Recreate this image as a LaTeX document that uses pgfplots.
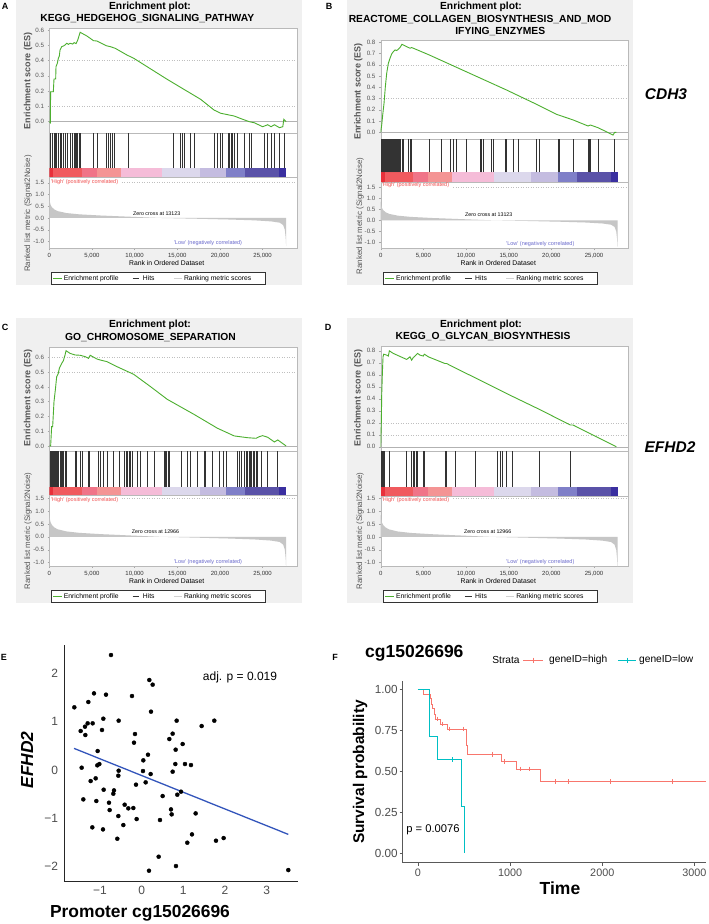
\documentclass[border=0pt]{standalone}
\usepackage{pgfplots}
\pgfplotsset{compat=1.18}
\usepackage{fontspec}
\setmainfont{Liberation Sans}
\newcommand{\fs}[1]{\fontsize{#1}{#1}\selectfont}
\definecolor{panelbg}{HTML}{F0F0F0}
\definecolor{esgreen}{HTML}{4CAF2F}
\definecolor{esgray}{HTML}{555555}
\definecolor{cbA}{HTML}{E8303A}
\definecolor{cbB}{HTML}{F05A5E}
\definecolor{cbC}{HTML}{F07488}
\definecolor{cbD}{HTML}{F49494}
\definecolor{cbE}{HTML}{F5BCD8}
\definecolor{cbF}{HTML}{DCD8EC}
\definecolor{cbG}{HTML}{C4BCE0}
\definecolor{cbH}{HTML}{7F7FC8}
\definecolor{cbI}{HTML}{5A52A8}
\definecolor{cbJ}{HTML}{3A2FA0}
\definecolor{kmred}{HTML}{F8766D}
\definecolor{kmteal}{HTML}{00BFC4}
\definecolor{regblue}{HTML}{3355BB}
\definecolor{hightxt}{HTML}{F05050}
\definecolor{lowtxt}{HTML}{6A6ACC}
\definecolor{tickgray}{HTML}{4D4D4D}

\pgfplotstableread{
x y
0 0
0 0.85
60 0.70
150 0.56
300 0.46
600 0.36
1000 0.29
2000 0.21
3500 0.155
6000 0.105
9000 0.06
13050 0
17000 -0.03
21000 -0.065
24000 -0.10
26000 -0.145
27000 -0.20
27400 -0.30
27600 -0.50
27700 -0.85
27750 -1.20
27750 0
}\rankdata

\pgfplotsset{
 gbase/.style={scale only axis, width=247.5pt, xmin=0, xmax=29000, anchor=north west,
   scaled ticks=false,
   axis line style={draw=gray!55, line width=0.4pt}, axis background/.style={fill=white}},
 ges/.style={gbase, xtick=\empty, ytick pos=left, tick align=outside, major tick length=1.8pt,
   tick style={gray!70, line width=0.4pt}, yticklabel style={font=\fs{6.2}, text=esgray}},
 ghit/.style={gbase, xtick=\empty, ytick=\empty, ymax=1},
 grank/.style={gbase, xtick={0,5000,10000,15000,20000,25000},
   xticklabels={0,{5,000},{10,000},{15,000},{20,000},{25,000}},
   ytick={-1,-0.5,0,0.5,1,1.5}, yticklabels={-1.0,-0.5,0.0,0.5,1.0,1.5},
   tick pos=left, tick align=outside, major tick length=1.8pt,
   tick style={gray!70, line width=0.4pt},
   yticklabel style={font=\fs{6.2}, text=esgray},
   xticklabel style={font=\fs{6}, text=black!80}},
 hitline/.style={ycomb, black!80, line width=0.55pt},
 esline/.style={esgreen, line width=0.9pt},
 refdot/.style={gray!50, dotted, line width=0.5pt},
}

\newcommand{\colorbar}{%
\addplot[fill=cbA,draw=none] coordinates {(0,-1)(470,-1)(470,0)(0,0)};
\addplot[fill=cbB,draw=none] coordinates {(470,-1)(3800,-1)(3800,0)(470,0)};
\addplot[fill=cbC,draw=none] coordinates {(3800,-1)(5570,-1)(5570,0)(3800,0)};
\addplot[fill=cbD,draw=none] coordinates {(5570,-1)(8400,-1)(8400,0)(5570,0)};
\addplot[fill=cbE,draw=none] coordinates {(8400,-1)(13230,-1)(13230,0)(8400,0)};
\addplot[fill=cbF,draw=none] coordinates {(13230,-1)(17620,-1)(17620,0)(13230,0)};
\addplot[fill=cbG,draw=none] coordinates {(17620,-1)(20760,-1)(20760,0)(17620,0)};
\addplot[fill=cbH,draw=none] coordinates {(20760,-1)(22960,-1)(22960,0)(20760,0)};
\addplot[fill=cbI,draw=none] coordinates {(22960,-1)(26970,-1)(26970,0)(22960,0)};
\addplot[fill=cbJ,draw=none] coordinates {(26970,-1)(27750,-1)(27750,0)(26970,0)};
}
\newcommand{\rankfill}{%
\addplot[fill=gray!45, draw=none] table {\rankdata};
\addplot[refdot] coordinates {(8500,1.5)(29000,1.5)};
}
\newcommand{\gsealegend}[2]{%
\begin{scope}[shift={(#1pt,-#2pt)}]
\draw[black!80, line width=0.5pt, fill=white] (0,0) rectangle (214pt,-11.6pt);
\draw[esgreen, line width=0.9pt] (2pt,-5.8pt) -- (10.5pt,-5.8pt);
\node[anchor=west, inner sep=0pt, font=\fs{6.8}] at (12.6pt,-5.8pt) {Enrichment profile};
\draw[black!80, line width=0.7pt] (81.5pt,-5.8pt) -- (88.3pt,-5.8pt);
\node[anchor=west, inner sep=0pt, font=\fs{6.8}] at (91.7pt,-5.8pt) {Hits};
\draw[gray!35, line width=0.7pt] (122.8pt,-5.8pt) -- (130.5pt,-5.8pt);
\node[anchor=west, inner sep=0pt, font=\fs{6.8}] at (132.8pt,-5.8pt) {Ranking metric scores};
\end{scope}}

\begin{document}
\begin{tikzpicture}
\fill[white] (0,0) rectangle (709pt,-924pt);
\path[use as bounding box] (0,0) rectangle (709pt,-924pt);
\clip (0,0) rectangle (709pt,-924pt);

% panel backgrounds
\fill[panelbg] (16pt,0pt) rectangle (302pt,-285pt);
\fill[panelbg] (347pt,0pt) rectangle (633pt,-285pt);
\fill[panelbg] (16pt,-318pt) rectangle (302pt,-603pt);
\fill[panelbg] (347pt,-318pt) rectangle (633pt,-603pt);

%%%%%%%%%%%%%%%% PANEL A
\begin{axis}[ges, at={(49.3pt,-28.3pt)}, height=105pt, ymin=-0.076, ymax=0.611,
  ytick={0,0.1,0.2,0.3,0.4,0.5,0.6}, yticklabels={0.0,0.1,0.2,0.3,0.4,0.5,0.6}]
\addplot[gray!60, line width=0.5pt] coordinates {(0,0)(29000,0)};
\addplot[refdot] coordinates {(0,0.4)(29000,0.4)};
\addplot[refdot] coordinates {(0,0.1)(29000,0.1)};
\addplot[esline] coordinates {(0,0)(118,-0.007)(157,0.196)(471,0.196)(550,0.279)(746,0.279)(785,0.36)(942,0.382)(1060,0.415)(1178,0.43)(1256,0.469)(1452,0.491)(1649,0.495)(1845,0.502)(2041,0.513)(2237,0.506)(2434,0.513)(2748,0.508)(2905,0.517)(3140,0.511)(3336,0.535)(3454,0.556)(3611,0.585)(4396,0.561)(5181,0.53)(5574,0.528)(5966,0.517)(6673,0.497)(7144,0.491)(7732,0.48)(9106,0.436)(9891,0.415)(13816,0.277)(17741,0.146)(19311,0.076)(20096,0.055)(21666,0.037)(22451,0.02)(23432,0)(24021,-0.007)(25002,-0.033)(25591,-0.02)(25984,-0.033)(26376,-0.02)(26966,-0.039)(27358,-0.033)(27476,0.015)(27750,0)};
\end{axis}
\begin{axis}[ghit, at={(49.3pt,-133.3pt)}, height=44pt, ymin=-0.257]
\colorbar
\addplot[hitline] coordinates {(157,1)(353,1)(550,1)(707,1)(864,1)(1060,1)(1256,1)(1374,1)(1649,1)(1884,1)(2120,1)(2434,1)(2748,1)(2905,1)(3022,1)(3219,1)(3336,1)(3454,1)(3611,1)(5181,1)(5574,1)(6673,1)(6869,1)(7144,1)(7379,1)(7575,1)(9302,1)(14483,1)(15386,1)(15582,1)(15779,1)(16564,1)(16956,1)(19311,1)(19625,1)(20018,1)(20292,1)(20960,1)(21117,1)(21273,1)(21470,1)(21666,1)(22059,1)(22844,1)(23432,1)(23629,1)(25199,1)(25591,1)(25984,1)(26376,1)(26966,1)(27476,1)};
\end{axis}
\begin{axis}[grank, at={(49.3pt,-177.3pt)}, height=71pt, ymin=-1.29, ymax=1.73]
\rankfill
\end{axis}

%%%%%%%%%%%%%%%% PANEL B
\begin{axis}[ges, at={(380.7pt,-40pt)}, height=99.3pt, ymin=-0.062, ymax=0.82,
  ytick={0,0.1,0.2,0.3,0.4,0.5,0.6,0.7,0.8}, yticklabels={0.0,0.1,0.2,0.3,0.4,0.5,0.6,0.7,0.8}]
\addplot[gray!60, line width=0.5pt] coordinates {(0,0)(29000,0)};
\addplot[refdot] coordinates {(0,0.6)(29000,0.6)};
\addplot[refdot] coordinates {(0,0.3)(29000,0.3)};
\addplot[esline] coordinates {(0,0)(117,0.065)(234,0.154)(390,0.258)(546,0.406)(702,0.524)(897,0.613)(1092,0.658)(1287,0.696)(1482,0.717)(1677,0.732)(1872,0.726)(2067,0.738)(2262,0.753)(2496,0.782)(3042,0.761)(3432,0.747)(3627,0.753)(3822,0.747)(5694,0.687)(10842,0.51)(14742,0.376)(18252,0.249)(20592,0.16)(22542,0.11)(24297,0.056)(24570,0.065)(25467,0.041)(27222,-0.024)(27417,0)(27612,0)};
\end{axis}
\begin{axis}[ghit, at={(380.7pt,-139.3pt)}, height=42.4pt, ymin=-0.285]
\colorbar
\addplot[hitline] coordinates {(39,1)(117,1)(195,1)(273,1)(351,1)(429,1)(507,1)(585,1)(663,1)(741,1)(819,1)(897,1)(975,1)(1053,1)(1131,1)(1209,1)(1287,1)(1365,1)(1443,1)(1521,1)(1599,1)(1677,1)(1755,1)(1833,1)(1911,1)(1989,1)(2067,1)(2184,1)(2340,1)(2496,1)(2652,1)(3237,1)(3432,1)(3627,1)(5694,1)(7137,1)(8112,1)(8502,1)(8814,1)(10062,1)(11700,1)(11817,1)(12012,1)(12987,1)(13182,1)(14547,1)(14742,1)(15522,1)(16107,1)(18252,1)(18525,1)(20787,1)(20982,1)(22542,1)(24297,1)(24414,1)(24570,1)(25467,1)(27417,1)};
\end{axis}
\begin{axis}[grank, at={(380.7pt,-181.7pt)}, height=66.6pt, ymin=-1.27, ymax=1.75]
\rankfill
\end{axis}

%%%%%%%%%%%%%%%% PANEL C
\begin{axis}[ges, at={(49.3pt,-347pt)}, height=103.7pt, ymin=-0.032, ymax=0.67,
  ytick={0,0.1,0.2,0.3,0.4,0.5,0.6}, yticklabels={0.0,0.1,0.2,0.3,0.4,0.5,0.6}]
\addplot[gray!60, line width=0.5pt] coordinates {(0,0)(29000,0)};
\addplot[refdot] coordinates {(0,0.6)(29000,0.6)};
\addplot[refdot] coordinates {(0,0.5)(29000,0.5)};
\addplot[esline] coordinates {(0,0)(157,0)(275,0.131)(393,0.131)(550,0.3)(707,0.379)(864,0.469)(1060,0.492)(1178,0.526)(1452,0.559)(1649,0.577)(1845,0.616)(1963,0.645)(2434,0.627)(3022,0.616)(3611,0.614)(4200,0.605)(4592,0.593)(4788,0.614)(5574,0.589)(5966,0.582)(6751,0.571)(7929,0.537)(9891,0.485)(11854,0.402)(13816,0.316)(16956,0.214)(19704,0.12)(21666,0.068)(23236,0.056)(24217,0.052)(24610,0.063)(25002,0.07)(25591,0.059)(26376,0.027)(26769,0.041)(27750,0)};
\end{axis}
\begin{axis}[ghit, at={(49.3pt,-450.7pt)}, height=44.3pt, ymin=-0.23]
\colorbar
\addplot[hitline] coordinates {(79,1)(196,1)(314,1)(471,1)(589,1)(707,1)(864,1)(981,1)(1099,1)(1256,1)(1374,1)(1492,1)(1649,1)(1845,1)(1963,1)(3022,1)(3219,1)(3611,1)(3807,1)(4592,1)(4710,1)(5770,1)(5966,1)(6359,1)(6830,1)(7536,1)(8203,1)(8831,1)(9028,1)(9185,1)(9342,1)(9499,1)(9695,1)(10284,1)(10676,1)(11461,1)(12325,1)(13502,1)(13620,1)(13738,1)(13895,1)(14012,1)(15504,1)(16171,1)(16564,1)(17349,1)(18134,1)(18251,1)(19115,1)(19900,1)(20410,1)(20724,1)(22059,1)(22255,1)(22451,1)(22844,1)(23040,1)(23236,1)(23432,1)(23550,1)(23707,1)(23903,1)(24021,1)(24217,1)(24414,1)(24806,1)(25591,1)(26769,1)};
\end{axis}
\begin{axis}[grank, at={(49.3pt,-495pt)}, height=71pt, ymin=-1.13, ymax=1.62]
\rankfill
\end{axis}

%%%%%%%%%%%%%%%% PANEL D
\begin{axis}[ges, at={(380.7pt,-346pt)}, height=104.7pt, ymin=-0.033, ymax=0.84,
  ytick={0,0.1,0.2,0.3,0.4,0.5,0.6,0.7,0.8}, yticklabels={0.0,0.1,0.2,0.3,0.4,0.5,0.6,0.7,0.8}]
\addplot[gray!60, line width=0.5pt] coordinates {(0,0)(29000,0)};
\addplot[refdot] coordinates {(0,0.2)(29000,0.2)};
\addplot[refdot] coordinates {(0,0.1)(29000,0.1)};
\addplot[esline] coordinates {(0,0)(78,0.217)(117,0.431)(195,0.611)(273,0.75)(351,0.772)(702,0.764)(897,0.756)(1014,0.8)(1482,0.778)(3042,0.728)(3432,0.75)(3627,0.722)(3822,0.744)(4134,0.764)(4329,0.778)(4602,0.764)(4992,0.756)(5109,0.772)(5577,0.75)(7527,0.694)(7722,0.694)(8697,0.658)(10842,0.583)(14742,0.444)(18525,0.314)(22230,0.181)(22542,0.181)(27612,0)};
\end{axis}
\begin{axis}[ghit, at={(380.7pt,-450.7pt)}, height=45pt, ymin=-0.25]
\colorbar
\addplot[hitline] coordinates {(39,1)(117,1)(195,1)(273,1)(351,1)(429,1)(1014,1)(3042,1)(3627,1)(3822,1)(3978,1)(4134,1)(4329,1)(4992,1)(5109,1)(7527,1)(7644,1)(8697,1)(11076,1)(13650,1)(13962,1)(14274,1)(14742,1)(15366,1)(18525,1)(22230,1)};
\end{axis}
\begin{axis}[grank, at={(380.7pt,-495.7pt)}, height=70.3pt, ymin=-1.13, ymax=1.6]
\rankfill
\end{axis}

%%%%%%%%%%%%%%%% GSEA texts
\begin{scope}[every node/.style={inner sep=0pt}]
\node[font=\fs{9}\bfseries] at (5pt,-6pt) {A};
\node[font=\fs{9}\bfseries] at (329pt,-6pt) {B};
\node[font=\fs{9}\bfseries] at (5pt,-327pt) {C};
\node[font=\fs{9}\bfseries] at (328pt,-327pt) {D};
\node[font=\fs{9}\bfseries] at (4pt,-657pt) {E};
\node[font=\fs{9}\bfseries] at (335pt,-657pt) {F};

\node[font=\fs{10.3}\bfseries] at (150pt,-6.5pt) {Enrichment plot:};
\node[font=\fs{10.3}\bfseries] at (147.3pt,-19pt) {KEGG\_HEDGEHOG\_SIGNALING\_PATHWAY};
\node[font=\fs{10.3}\bfseries] at (481pt,-6.5pt) {Enrichment plot:};
\node[font=\fs{10.3}\bfseries] at (480pt,-19.3pt) {REACTOME\_COLLAGEN\_BIOSYNTHESIS\_AND\_MOD};
\node[font=\fs{10.3}\bfseries] at (500.3pt,-32pt) {IFYING\_ENZYMES};
\node[font=\fs{10.3}\bfseries] at (150pt,-325pt) {Enrichment plot:};
\node[font=\fs{10.3}\bfseries] at (150.5pt,-337.3pt) {GO\_CHROMOSOME\_SEPARATION};
\node[font=\fs{10.3}\bfseries] at (481pt,-324.5pt) {Enrichment plot:};
\node[font=\fs{10.3}\bfseries] at (483pt,-336.7pt) {KEGG\_O\_GLYCAN\_BIOSYNTHESIS};

\node[font=\fs{9}\bfseries, text=esgray, rotate=90] at (28pt,-81pt) {Enrichment score (ES)};
\node[font=\fs{9}\bfseries, text=esgray, rotate=90] at (358.3pt,-91.5pt) {Enrichment score (ES)};
\node[font=\fs{9}\bfseries, text=esgray, rotate=90] at (28pt,-398pt) {Enrichment score (ES)};
\node[font=\fs{9}\bfseries, text=esgray, rotate=90] at (358.3pt,-398pt) {Enrichment score (ES)};

\node[font=\fs{7.9}, text=esgray, rotate=90] at (28pt,-213.5pt) {Ranked list metric (Signal2Noise)};
\node[font=\fs{7.9}, text=esgray, rotate=90] at (360pt,-216pt) {Ranked list metric (Signal2Noise)};
\node[font=\fs{7.9}, text=esgray, rotate=90] at (28pt,-531pt) {Ranked list metric (Signal2Noise)};
\node[font=\fs{7.9}, text=esgray, rotate=90] at (360pt,-531pt) {Ranked list metric (Signal2Noise)};

\node[anchor=west, font=\fs{5.5}, text=hightxt] at (50.7pt,-181.7pt) {\textquotesingle High\textquotesingle\ (positively correlated)};
\node[anchor=west, font=\fs{5.5}, text=hightxt] at (381.7pt,-185pt) {\textquotesingle High\textquotesingle\ (positively correlated)};
\node[anchor=west, font=\fs{5.5}, text=hightxt] at (50.7pt,-499.7pt) {\textquotesingle High\textquotesingle\ (positively correlated)};
\node[anchor=west, font=\fs{5.5}, text=hightxt] at (381.7pt,-500.5pt) {\textquotesingle High\textquotesingle\ (positively correlated)};

\node[font=\fs{5.3}] at (156.7pt,-213.3pt) {Zero cross at 13123};
\node[font=\fs{5.3}] at (488.8pt,-215pt) {Zero cross at 13123};
\node[font=\fs{5.3}] at (155.5pt,-531.7pt) {Zero cross at 12966};
\node[font=\fs{5.3}] at (487.7pt,-531.7pt) {Zero cross at 12966};

\node[font=\fs{5.5}, text=lowtxt] at (208pt,-243.3pt) {\textquotesingle Low\textquotesingle\ (negatively correlated)};
\node[font=\fs{5.5}, text=lowtxt] at (540.3pt,-243.7pt) {\textquotesingle Low\textquotesingle\ (negatively correlated)};
\node[font=\fs{5.5}, text=lowtxt] at (208pt,-561.7pt) {\textquotesingle Low\textquotesingle\ (negatively correlated)};
\node[font=\fs{5.5}, text=lowtxt] at (540.3pt,-561.7pt) {\textquotesingle Low\textquotesingle\ (negatively correlated)};

\node[font=\fs{6.8}] at (166.7pt,-263pt) {Rank in Ordered Dataset};
\node[font=\fs{6.8}] at (498.3pt,-263.3pt) {Rank in Ordered Dataset};
\node[font=\fs{6.8}] at (166.7pt,-581.3pt) {Rank in Ordered Dataset};
\node[font=\fs{6.8}] at (498.3pt,-581.3pt) {Rank in Ordered Dataset};

\node[font=\fs{15.5}\bfseries\itshape] at (666pt,-94pt) {CDH3};
\node[font=\fs{15.5}\bfseries\itshape] at (670pt,-446.7pt) {EFHD2};
\end{scope}

\gsealegend{51}{272.7}
\gsealegend{383.3}{272.7}
\gsealegend{51}{590.7}
\gsealegend{383.3}{590.7}

%%%%%%%%%%%%%%%% PANEL E
\begin{axis}[scale only axis, at={(64pt,-645pt)}, anchor=north west, width=234.3pt, height=236.7pt,
  xmin=-1.864, xmax=3.76, ymin=-2.31, ymax=2.586,
  axis x line*=bottom, axis y line*=left, axis line style={-, black!85, line width=0.6pt},
  xtick={-1,0,1,2,3}, xticklabels={−1,0,1,2,3},
  ytick={-2,-1,0,1,2}, yticklabels={−2,−1,0,1,2},
  major tick length=0pt, tick label style={font=\fs{12}, text=tickgray},
  yticklabel style={xshift=-2.5pt}, xticklabel style={yshift=-1pt}]
\addplot[only marks, mark=*, mark size=2pt, black] coordinates {
(-1.616,1.297)(-0.736,2.379)(-1.144,1.586)(-1.28,1.407)(-0.856,1.559)(-0.232,1.531)(0.184,1.862)(0.264,1.766)
(-1.464,0.807)(-1.36,0.897)(-1.296,0.966)(-1.176,0.966)(-1.352,0.724)(-0.92,1.062)(-0.952,0.828)(-0.552,1.021)
(0.224,1.207)(0.84,1.021)(1.44,0.91)(1.744,1.021)(-0.16,0.745)(0.744,0.752)(0.664,0.641)(-0.184,0.566)
(0.984,0.538)(0.816,0.421)(-1.056,0.393)(0.152,0.317)(0.04,0.2)(-1.44,0.048)(-1.064,0.097)(-1.016,0.124)
(0.808,0.124)(1.04,0.124)(1.184,0.103)(-0.552,-0.014)(-0.56,-0.117)(0.032,-0.021)(0.216,-0.083)(0.744,-0.034)
(-1.224,-0.228)(-1.104,-0.172)(-0.136,-0.303)(0.096,-0.255)(-0.912,-0.407)(-0.664,-0.421)(-0.68,-0.49)(0.504,-0.538)
(0.856,-0.51)(0.944,-0.448)(-1.4,-0.607)(-1.088,-0.641)(-0.784,-0.676)(-0.408,-0.717)(-0.32,-0.793)(-0.2,-0.786)
(-0.768,-0.828)(0.704,-0.814)(0.72,-0.917)(1.296,-0.897)(-0.56,-0.952)(-0.12,-1.014)(0.44,-1.034)(-0.44,-1.138)
(-1.184,-1.186)(-0.928,-1.228)(1.208,-1.331)(1.784,-1.462)(1.968,-1.407)(-0.584,-1.421)(1.096,-1.503)(0.408,-1.793)
(0.824,-1.986)(0.176,-2.083)(3.52,-2.069)};
\addplot[regblue, line width=1.3pt] coordinates {(-1.624,0.448)(3.52,-1.331)};
\end{axis}
\node[font=\fs{12}, inner sep=0pt] at (240pt,-677pt) {adj. p = 0.019};
\node[font=\fs{17.4}\bfseries\itshape, rotate=90, inner sep=0pt] at (27pt,-760pt) {EFHD2};
\node[font=\fs{17.4}\bfseries, inner sep=0pt] at (140pt,-913pt) {Promoter cg15026696};

%%%%%%%%%%%%%%%% PANEL F
\begin{axis}[scale only axis, at={(402.7pt,-680.7pt)}, anchor=north west, width=303.3pt, height=182pt,
  xmin=-164, xmax=3125, ymin=-0.057, ymax=1.0505,
  axis x line*=bottom, axis y line*=left, axis line style={-, gray!70!black, line width=0.6pt},
  xtick={0,1000,2000,3000}, xticklabels={0,1000,2000,3000},
  ytick={0,0.25,0.5,0.75,1}, yticklabels={0.00,0.25,0.50,0.75,1.00},
  tick align=outside, major tick length=3pt, tick style={gray!70!black, line width=0.6pt},
  tick label style={font=\fs{11.7}, text=tickgray}, yticklabel style={xshift=1.5pt},
  xticklabel style={font=\fs{10.8}}]
\addplot[kmred, line width=0.8pt, const plot] coordinates {(0,1)(57,0.97)(136,0.94)(142,0.909)(157,0.879)(182,0.848)(193,0.818)(246,0.787)(325,0.757)(522,0.723)(527,0.689)(532,0.655)(539,0.603)(907,0.558)(1068,0.513)(1326,0.436)(3125,0.436)};
\addplot[kmteal, line width=0.8pt, const plot] coordinates {(0,1)(129,0.714)(207,0.571)(468,0.286)(507,0)};
\addplot[only marks, mark=+, mark size=2.3pt, kmred, line width=0.6pt] coordinates {(207,0.818)(264,0.787)(343,0.757)(493,0.757)(807,0.603)(940,0.558)(1111,0.513)(1208,0.513)(1486,0.436)(1629,0.436)(2083,0.436)(2755,0.436)};
\addplot[only marks, mark=+, mark size=2.3pt, kmteal, line width=0.6pt] coordinates {(372,0.571)};
\end{axis}
\node[anchor=west, font=\fs{17.5}\bfseries, inner sep=0pt] at (365pt,-653pt) {cg15026696};
\node[font=\fs{10.2}, inner sep=0pt] at (506pt,-660pt) {Strata};
\draw[kmred, line width=0.8pt] (523pt,-660pt) -- (543pt,-660pt);
\draw[kmred, line width=0.6pt] (533pt,-657.5pt) -- (533pt,-662.5pt);
\node[anchor=west, font=\fs{10.2}, inner sep=0pt] at (549pt,-660pt) {geneID=high};
\draw[kmteal, line width=0.8pt] (618pt,-660pt) -- (636pt,-660pt);
\draw[kmteal, line width=0.6pt] (627pt,-657.5pt) -- (627pt,-662.5pt);
\node[anchor=west, font=\fs{10.2}, inner sep=0pt] at (639pt,-660pt) {geneID=low};
\node[font=\fs{15.5}\bfseries, rotate=90, inner sep=0pt] at (360pt,-772pt) {Survival probability};
\node[font=\fs{17.5}\bfseries, inner sep=0pt] at (560pt,-888pt) {Time};
\node[font=\fs{11.2}, inner sep=0pt] at (433pt,-830pt) {p = 0.0076};
\end{tikzpicture}
\end{document}
